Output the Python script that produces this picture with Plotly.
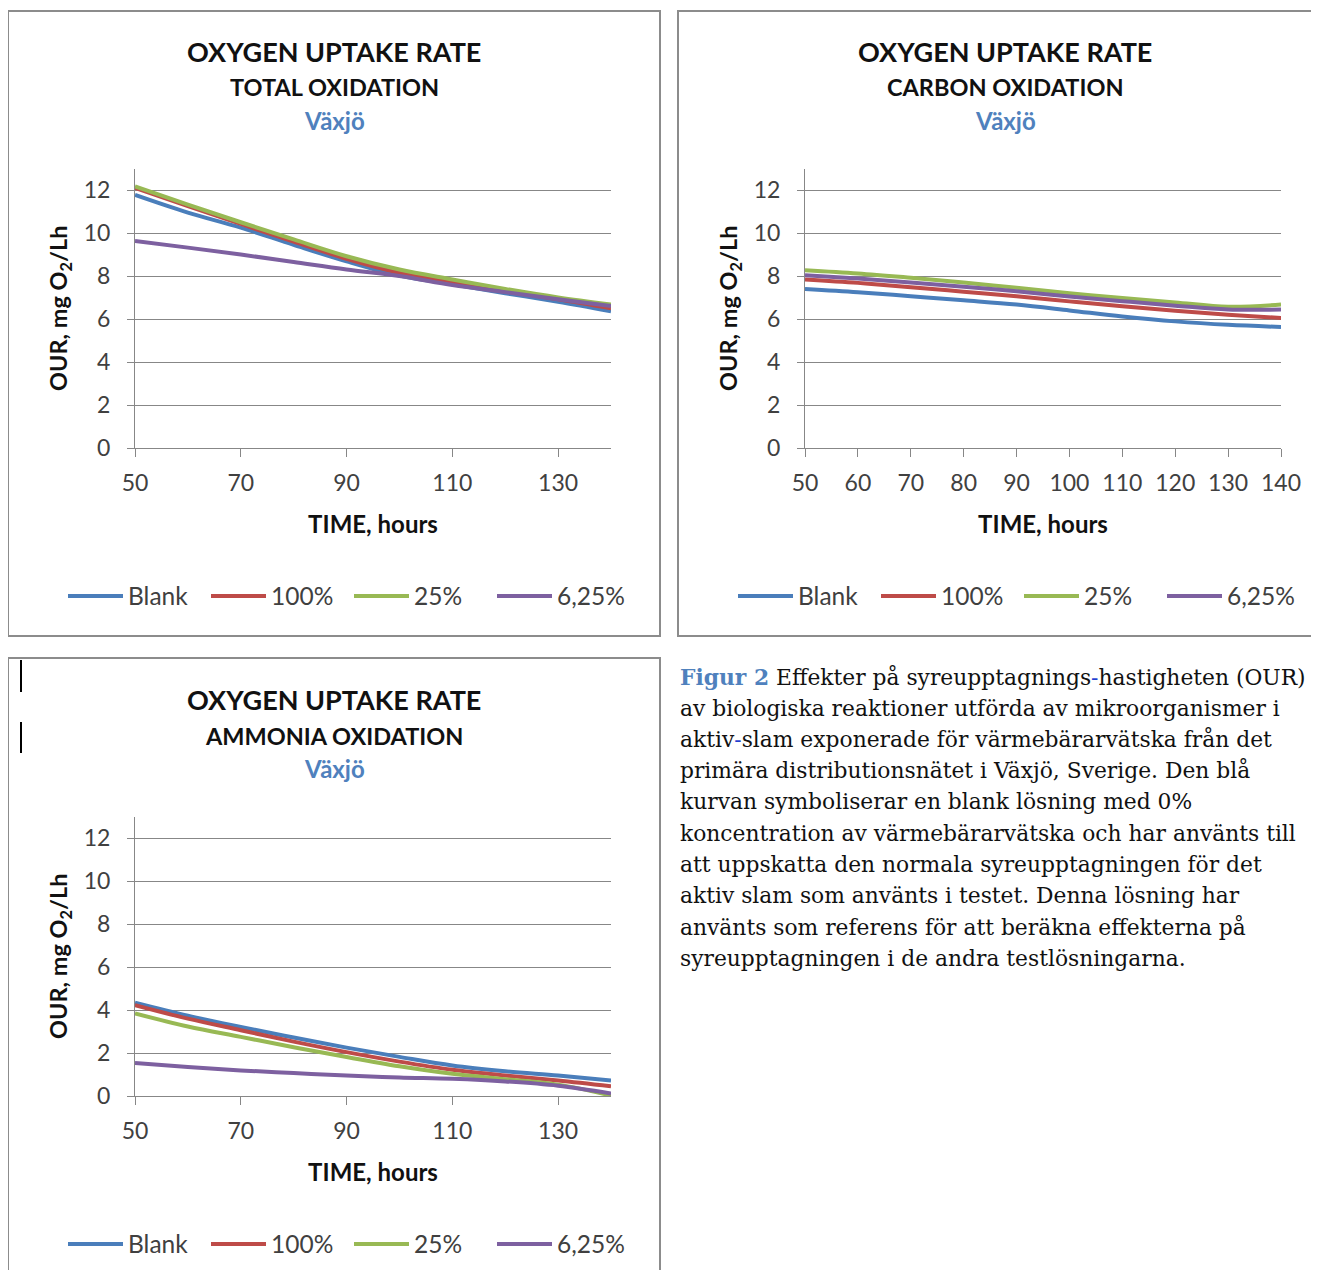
import plotly.graph_objects as go

# target canvas (reference pixel space) and the figure itself, placed at the page's 8px body margin
REF_W, REF_H = 1319, 1278
OFF = 8
W, H = REF_W - 2 * OFF, REF_H - 2 * OFF

# ---------------- data ----------------
series_names = ["Blank", "100%", "25%", "6,25%"]
series_colors = ["#4A7EBB", "#BE4B48", "#98B954", "#7D60A0"]

time_h = [50, 60, 70, 80, 90, 100, 110, 120, 130, 140]

total_blank = [11.77, 10.95, 10.25, 9.45, 8.68, 8.02, 7.62, 7.2, 6.8, 6.36]
total_100 = [12.10, 11.25, 10.42, 9.6, 8.8, 8.15, 7.72, 7.3, 6.92, 6.5]
total_25 = [12.17, 11.32, 10.5, 9.7, 8.92, 8.3, 7.84, 7.4, 7.0, 6.67]
total_625 = [9.63, 9.32, 9.0, 8.65, 8.3, 8.0, 7.58, 7.25, 6.92, 6.6]

carbon_blank = [7.40, 7.25, 7.06, 6.87, 6.67, 6.40, 6.12, 5.89, 5.73, 5.63]
carbon_100 = [7.84, 7.68, 7.48, 7.27, 7.06, 6.82, 6.59, 6.38, 6.20, 6.05]
carbon_25 = [8.27, 8.12, 7.92, 7.70, 7.45, 7.20, 6.98, 6.77, 6.57, 6.67]
carbon_625 = [8.03, 7.88, 7.70, 7.50, 7.29, 7.05, 6.83, 6.62, 6.44, 6.44]

ammonia_blank = [4.34, 3.73, 3.21, 2.72, 2.25, 1.82, 1.42, 1.15, 0.95, 0.72]
ammonia_100 = [4.23, 3.60, 3.06, 2.53, 2.04, 1.60, 1.22, 0.95, 0.72, 0.45]
ammonia_25 = [3.84, 3.23, 2.75, 2.27, 1.81, 1.38, 1.03, 0.78, 0.53, 0.02]
ammonia_625 = [1.54, 1.35, 1.19, 1.07, 0.95, 0.86, 0.80, 0.68, 0.48, 0.12]

chart_titles = ["OXYGEN UPTAKE RATE", "OXYGEN UPTAKE RATE", "OXYGEN UPTAKE RATE"]
chart_subtitles = ["TOTAL OXIDATION", "CARBON OXIDATION", "AMMONIA OXIDATION"]
chart_place = "Växjö"
x_title = "TIME, hours"
y_title = "OUR, mg O<sub>2</sub>/Lh"
y_ticks = [0, 2, 4, 6, 8, 10, 12]
x_ticks_a = [50, 70, 90, 110, 130]
x_ticks_b = [50, 60, 70, 80, 90, 100, 110, 120, 130, 140]

caption_lines = [
    "<span style='color:#4F81BD'><b>Figur 2</b></span> Effekter på syreupptagnings<span style='color:#1F3FD0'>-</span>hastigheten (OUR)",
    "av biologiska reaktioner utförda av mikroorganismer i",
    "aktiv<span style='color:#1F3FD0'>-</span>slam exponerade för värmebärarvätska från det",
    "primära distributionsnätet i Växjö, Sverige. Den blå",
    "kurvan symboliserar en blank lösning med 0%",
    "koncentration av värmebärarvätska och har använts till",
    "att uppskatta den normala syreupptagningen för det",
    "aktiv slam som använts i testet. Denna lösning har",
    "använts som referens för att beräkna effekterna på",
    "syreupptagningen i de andra testlösningarna.",
]

charts = [
    dict(data=[total_blank, total_100, total_25, total_625], xt=x_ticks_a, dx=(135, 611), dy=(168.5, 448), box=(8, 11, 660, 636), cx=334, lx=67, ty=0, leg="legend"),
    dict(data=[carbon_blank, carbon_100, carbon_25, carbon_625], xt=x_ticks_b, dx=(805, 1281), dy=(168.5, 448), box=(678, 11, 1340, 636), cx=1005, lx=737, ty=0, leg="legend2"),
    dict(data=[ammonia_blank, ammonia_100, ammonia_25, ammonia_625], xt=x_ticks_a, dx=(135, 611), dy=(816.5, 1096), box=(8, 658, 660, 1290), cx=334, lx=67, ty=648, leg="legend3"),
]

FONT = "Lato"
GRID = "#878787"
TICKC = "#404040"

def px(x):
    return (x - OFF) / W

def py(y):
    return 1 - (y - OFF) / H

fig = go.Figure()
layout = dict(
    width=W, height=H,
    margin=dict(l=0, r=0, t=0, b=0, autoexpand=False),
    paper_bgcolor="white", plot_bgcolor="white",
    showlegend=True,
    font=dict(family=FONT, color=TICKC),
)
annotations = []
shapes = []

for i, c in enumerate(charts):
    sfx = "" if i == 0 else str(i + 1)
    for name, color, ys in zip(series_names, series_colors, c["data"]):
        fig.add_trace(go.Scatter(
            x=time_h, y=ys, mode="lines", name=name,
            line=dict(color=color, width=4, shape="spline", smoothing=1.0),
            xaxis="x" + sfx, yaxis="y" + sfx, legend=c["leg"],
        ))
    layout["xaxis" + sfx] = dict(
        domain=[px(c["dx"][0]), px(c["dx"][1])], anchor="y" + sfx,
        range=[50, 140], tickvals=c["xt"], showgrid=False, zeroline=False,
        showline=True, linecolor=GRID, linewidth=1, automargin=False,
        ticks="outside", ticklen=8, tickcolor=GRID, ticklabelstandoff=6,
        tickfont=dict(size=23, family=FONT, color=TICKC),
        title=dict(text="<b>" + x_title + "</b>", font=dict(size=24, family=FONT, color="#111"), standoff=21),
    )
    layout["yaxis" + sfx] = dict(
        domain=[py(c["dy"][1]), py(c["dy"][0])], anchor="x" + sfx,
        range=[0, 13], tickvals=y_ticks, showgrid=True, gridcolor=GRID, gridwidth=1,
        zeroline=False, showline=True, linecolor=GRID, linewidth=1, automargin=False,
        ticks="outside", ticklen=7, tickcolor=GRID, ticklabelstandoff=12,
        tickfont=dict(size=23, family=FONT, color=TICKC),
        title=dict(text="<b>" + y_title + "</b>", font=dict(size=23.5, family=FONT, color="#111"), standoff=9),
    )
    layout[c["leg"]] = dict(
        orientation="h", x=px(c["lx"] - 4), xanchor="left", y=py(596 + c["ty"]), yanchor="middle",
        font=dict(size=24.5, family=FONT, color=TICKC), itemwidth=55,
        entrywidth=73, entrywidthmode="pixels",
        bgcolor="rgba(0,0,0,0)", traceorder="normal",
    )
    x0, y0, x1, y1 = c["box"]
    shapes.append(dict(type="rect", xref="paper", yref="paper", x0=px(x0), x1=px(x1), y0=py(y1), y1=py(y0),
                       line=dict(color="#8C8C8C", width=2), fillcolor="rgba(0,0,0,0)", layer="below"))
    annotations.append(dict(text="<b>" + chart_titles[i] + "</b>", x=px(c["cx"]), y=py(51 + c["ty"]), xref="paper", yref="paper",
                            showarrow=False, xanchor="center", yanchor="middle", font=dict(size=27, family=FONT, color="#111")))
    annotations.append(dict(text="<b>" + chart_subtitles[i] + "</b>", x=px(c["cx"]), y=py(87.5 + c["ty"]), xref="paper", yref="paper",
                            showarrow=False, xanchor="center", yanchor="middle", font=dict(size=23.5, family=FONT, color="#111")))
    annotations.append(dict(text="<b>" + chart_place + "</b>", x=px(c["cx"]), y=py(120.5 + c["ty"]), xref="paper", yref="paper",
                            showarrow=False, xanchor="center", yanchor="middle", font=dict(size=24, family=FONT, color="#4F81BD")))

# caption
cap_y = [677, 708, 739, 770, 801, 833, 864, 895, 927, 958]
for line, yy in zip(caption_lines, cap_y):
    annotations.append(dict(text=line, x=px(678), y=py(yy), xref="paper", yref="paper", showarrow=False,
                            xanchor="left", yanchor="middle", font=dict(size=21.8, family="DejaVu Serif", color="#111")))

# text cursor marks
for (a, b) in [(660, 692), (722, 753)]:
    shapes.append(dict(type="line", xref="paper", yref="paper", x0=px(21), x1=px(21), y0=py(a), y1=py(b),
                       line=dict(color="black", width=2)))

layout["annotations"] = annotations
layout["shapes"] = shapes
fig.update_layout(**layout)
fig.write_html("out.html")
